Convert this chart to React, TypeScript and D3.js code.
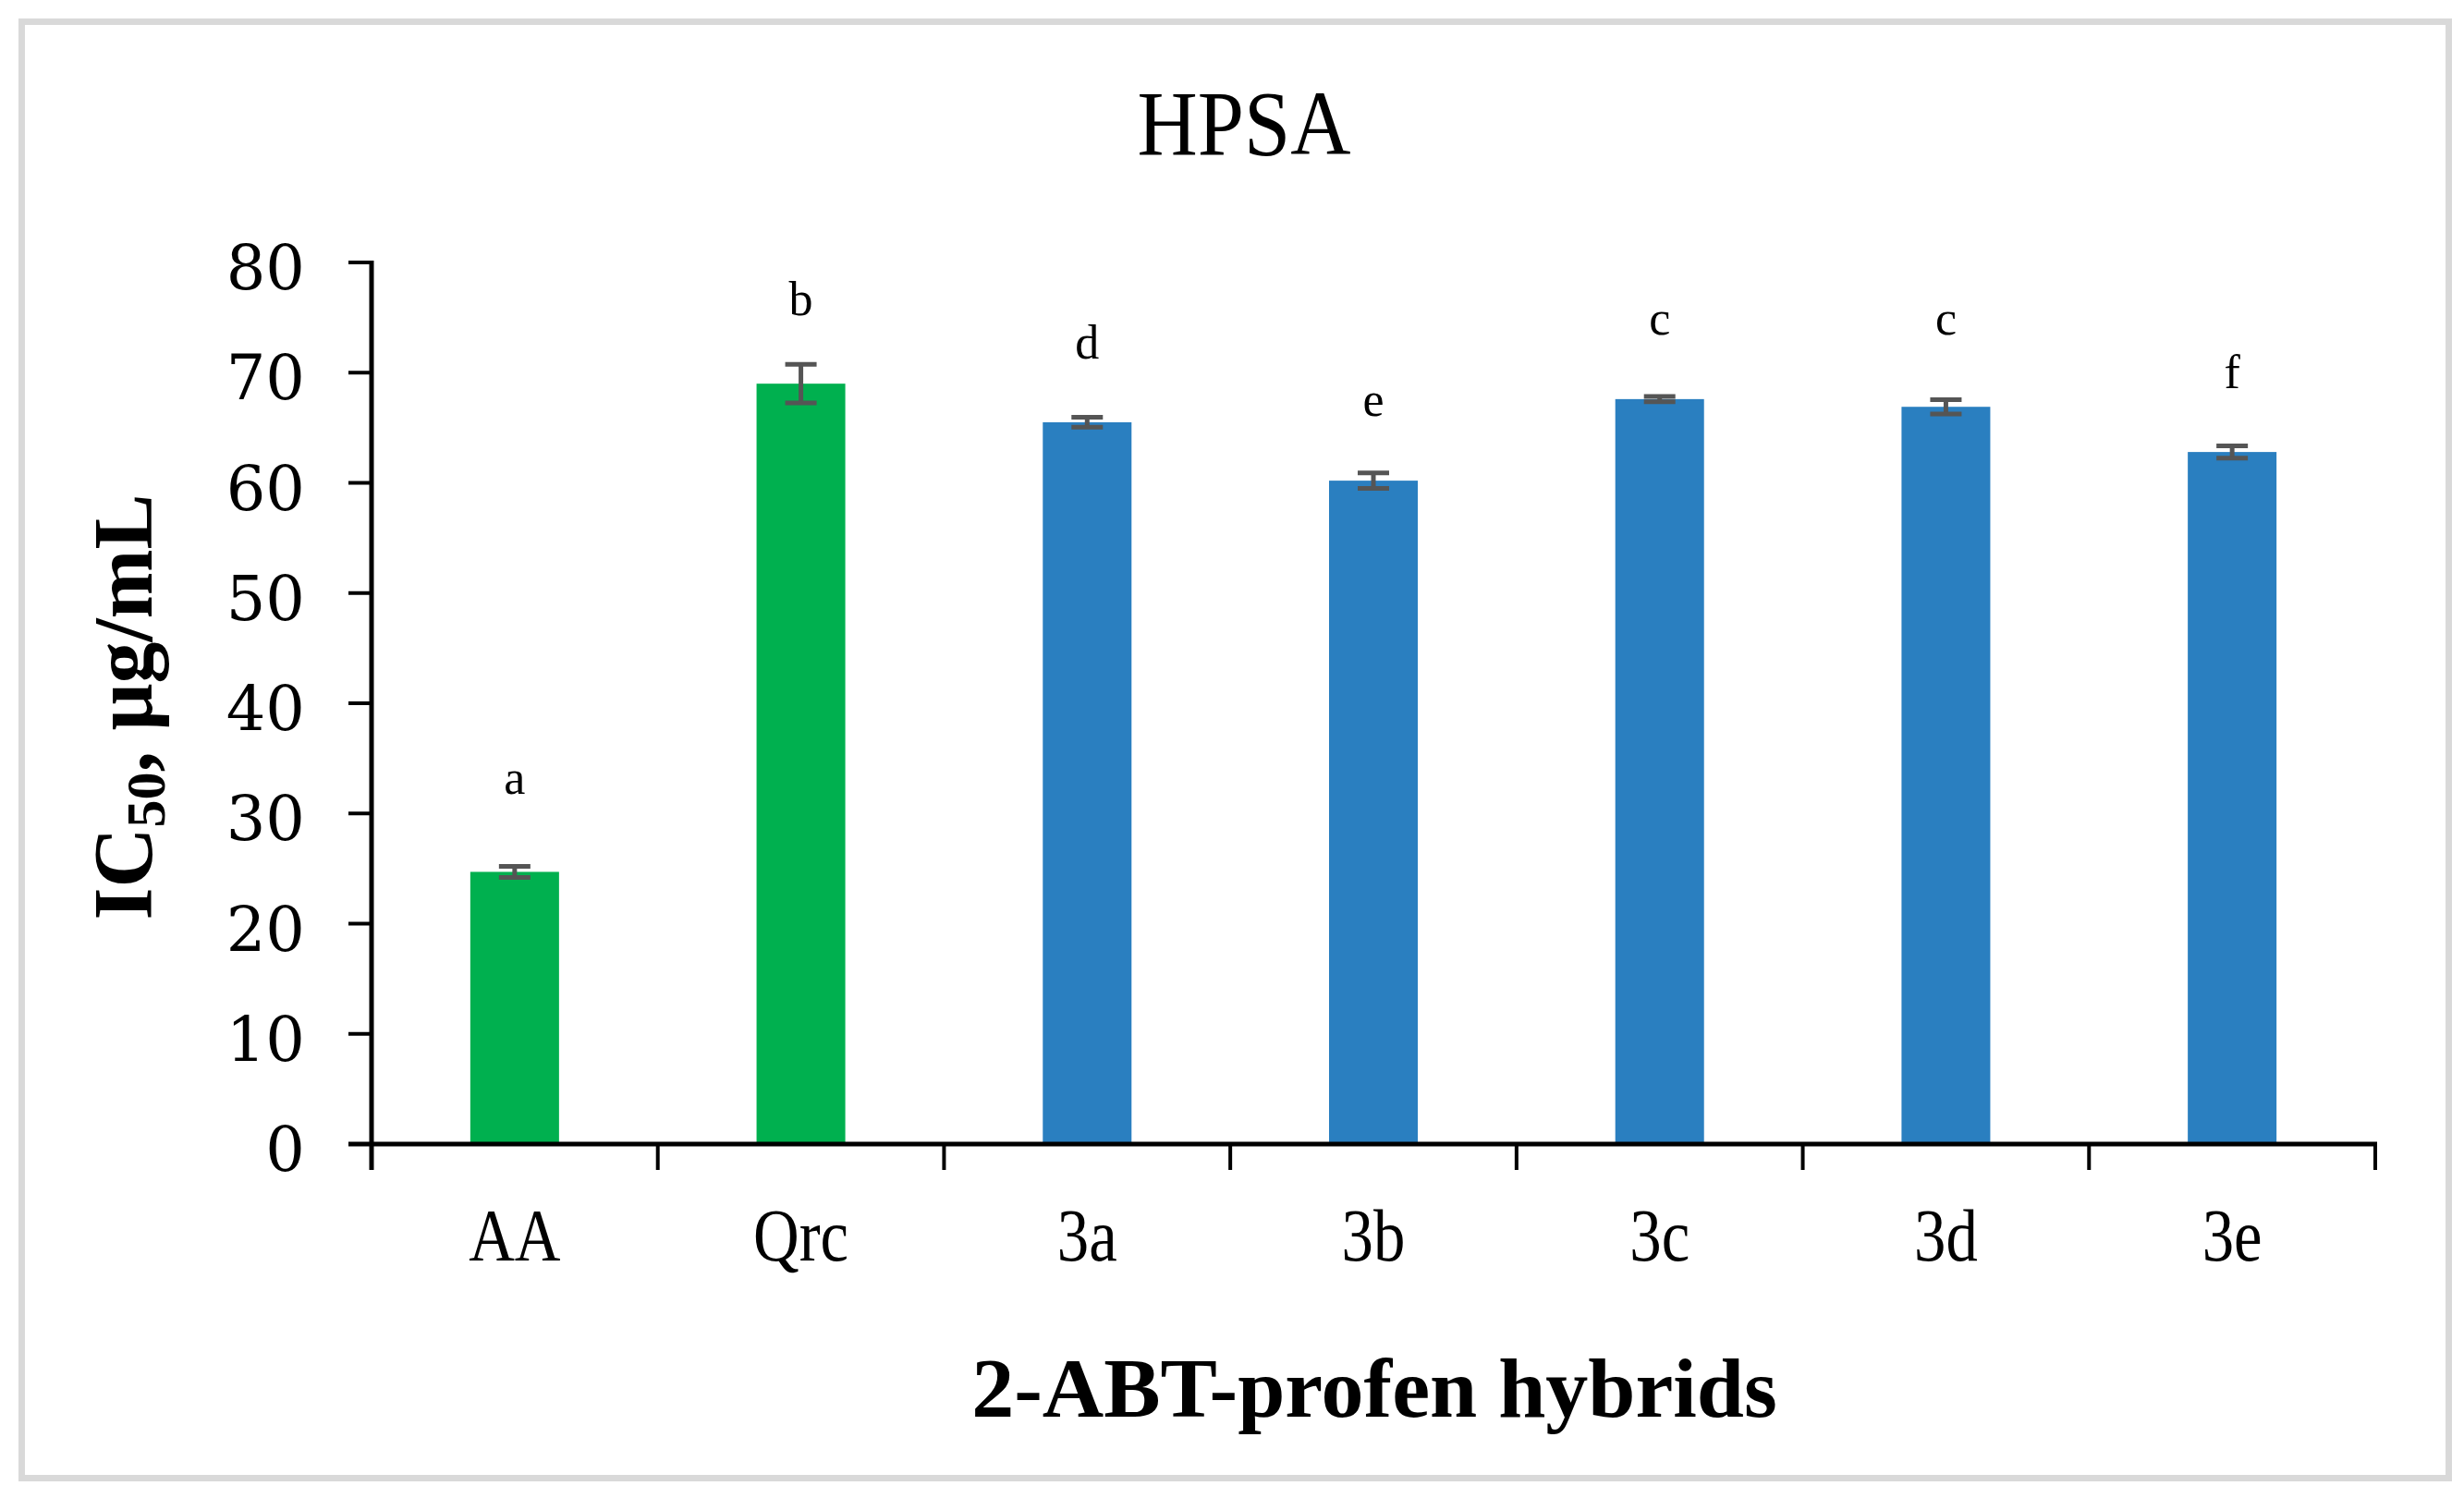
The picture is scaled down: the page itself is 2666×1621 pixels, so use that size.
import React from "react";
import * as d3 from "d3";

const categories = ["AA", "Qrc", "3a", "3b", "3c", "3d", "3e"];
const values = [24.7, 69.0, 65.5, 60.2, 67.6, 66.9, 62.8];
const errors = [0.5, 1.75, 0.45, 0.7, 0.25, 0.65, 0.55];
const groups = ["ref", "ref", "hyb", "hyb", "hyb", "hyb", "hyb"];
const letters = ["a", "b", "d", "e", "c", "c", "f"];
const letterLevels = [31.8, 75.2, 71.3, 66.1, 73.5, 73.5, 68.6];
const yTicks = [0, 10, 20, 30, 40, 50, 60, 70, 80];

const W = 2666;
const H = 1621;
const colors: Record<string, string> = { ref: "#00b04f", hyb: "#2a7fc0" };

export default function App() {
  const plotLeft = 402;
  const plotRight = 2570;
  const plotTop = 284;
  const plotBottom = 1238;

  const y = d3.scaleLinear().domain([0, 80]).range([plotBottom, plotTop]);
  const xBand = d3
    .scaleBand<string>()
    .domain(categories)
    .range([plotLeft, plotRight])
    .paddingInner(0.69)
    .paddingOuter(0.345);
  const xStep = d3.scaleBand<string>().domain(categories).range([plotLeft, plotRight]).padding(0);
  const bw = xBand.bandwidth();
  const tickXs = [...categories.map((c) => xStep(c) as number), plotRight];
  const serif = "'Liberation Serif', 'Times New Roman', serif";

  return (
    <svg
      width={W}
      height={H}
      style={{ position: "absolute", left: 0, top: 0, background: "#fff" }}
    >
      <rect x={0} y={0} width={W} height={H} fill="#fff" />
      <rect x={23.5} y={23.5} width={2626} height={1576} fill="none" stroke="#d9d9d9" strokeWidth={7} />

      {/* title */}
      <text x={1346} y={167} textAnchor="middle" fontFamily={serif} fontSize={100} textLength={231} lengthAdjust="spacingAndGlyphs" fill="#000">
        HPSA
      </text>

      {/* bars */}
      {categories.map((c, i) => (
        <rect
          key={c}
          x={xBand(c)}
          y={y(values[i])}
          width={bw}
          height={y(0) - y(values[i])}
          fill={colors[groups[i]]}
        />
      ))}

      {/* error bars */}
      {categories.map((c, i) => {
        const cx = (xBand(c) as number) + bw / 2;
        const hi = y(values[i] + errors[i]);
        const lo = y(values[i] - errors[i]);
        return (
          <g key={"e" + c} stroke="#555555" strokeWidth={5}>
            <line x1={cx} x2={cx} y1={hi} y2={lo} />
            <line x1={cx - 17} x2={cx + 17} y1={hi} y2={hi} />
            <line x1={cx - 17} x2={cx + 17} y1={lo} y2={lo} />
          </g>
        );
      })}

      {/* significance letters */}
      {categories.map((c, i) => (
        <text
          key={"l" + c}
          x={(xBand(c) as number) + bw / 2}
          y={y(letterLevels[i])}
          textAnchor="middle"
          fontFamily={serif}
          fontSize={52}
          fill="#000"
        >
          {letters[i]}
        </text>
      ))}

      {/* y axis */}
      <line x1={plotLeft} x2={plotLeft} y1={plotTop - 2} y2={plotBottom + 28} stroke="#000" strokeWidth={5} />
      {yTicks.map((t) => (
        <g key={"yt" + t}>
          <line x1={plotLeft - 25} x2={plotLeft} y1={y(t)} y2={y(t)} stroke="#000" strokeWidth={4} />
          <text
            x={330}
            y={y(t) + 29}
            textAnchor="end"
            fontFamily="'DejaVu Serif', serif"
            fontSize={67}
            fill="#000"
          >
            {t}
          </text>
        </g>
      ))}

      {/* x axis */}
      <line x1={plotLeft - 25} x2={plotRight + 2} y1={plotBottom} y2={plotBottom} stroke="#000" strokeWidth={5} />
      {tickXs.map((tx, i) => (
        <line key={"xt" + i} x1={tx} x2={tx} y1={plotBottom} y2={plotBottom + 28} stroke="#000" strokeWidth={4} />
      ))}
      {categories.map((c) => {
        const cx = (xStep(c) as number) + xStep.bandwidth() / 2;
        return (
          <text
            key={"xl" + c}
            transform={`translate(${cx},1364) scale(0.86,1)`}
            textAnchor="middle"
            fontFamily={serif}
            fontSize={80}
            fill="#000"
          >
            {c}
          </text>
        );
      })}

      {/* x axis title */}
      <text x={1487} y={1533} textAnchor="middle" fontFamily={serif} fontWeight="bold" fontSize={92} fill="#000">
        2-ABT-profen hybrids
      </text>

      {/* y axis title */}
      <text
        transform="translate(164,765) rotate(-90)"
        textAnchor="middle"
        fontFamily={serif}
        fontWeight="bold"
        fontSize={90}
        fill="#000"
      >
        IC
        <tspan fontSize={60} dy={14}>50</tspan>
        <tspan dy={-14}>, μg/mL</tspan>
      </text>
    </svg>
  );
}
